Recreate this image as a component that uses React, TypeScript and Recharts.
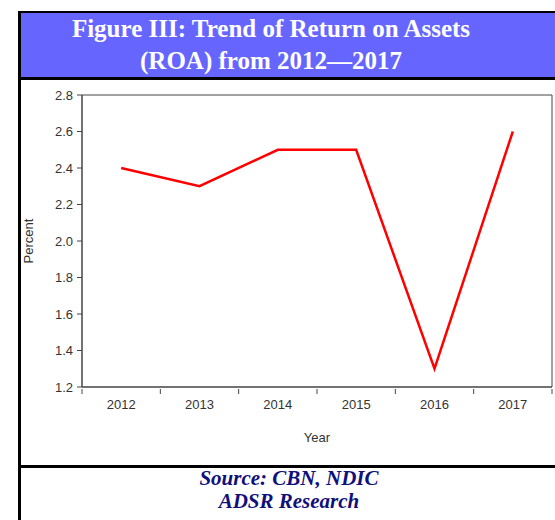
import { LineChart, Line, XAxis, YAxis, ReferenceArea, Label } from 'recharts';

const YEARS = ['2012', '2013', '2014', '2015', '2016', '2017'];
const ROA = [2.4, 2.3, 2.5, 2.5, 1.3, 2.6];
const Y_TICKS = [1.2, 1.4, 1.6, 1.8, 2.0, 2.2, 2.4, 2.6, 2.8];

const data = YEARS.map((year, i) => ({ year, roa: ROA[i] }));

const AXIS_COLOR = '#444';
const TEXT_COLOR = '#333';
const SANS = 'Arial, "Liberation Sans", sans-serif';
const SERIF = '"Times New Roman", "Liberation Serif", serif';

// x ticks sit between the categories, labels in the middle
const YearTick = (props: any) => {
    const { x, y, payload, index } = props;
    const half = payload && payload.offset ? payload.offset : 470 / 12;
    return (
        <g>
            {index === 0 && <line x1={x - half} y1={y - 6} x2={x - half} y2={y - 1} stroke={AXIS_COLOR} />}
            <line x1={x + half} y1={y - 6} x2={x + half} y2={y - 1} stroke={AXIS_COLOR} />
            <text x={x} y={y + 14} textAnchor="middle" fontSize={13} fontFamily={SANS} fill={TEXT_COLOR}>
                {payload.value}
            </text>
        </g>
    );
};

export default function App() {
    return (
        <div style={{ position: 'fixed', left: 0, top: 0, width: 555, height: 520, overflow: 'hidden', background: '#fff' }}>
            {/* frame */}
            <div style={{ position: 'absolute', left: 18, top: 11, width: 3, height: 509, background: '#000' }} />
            <div style={{ position: 'absolute', left: 18, top: 11, width: 537, height: 2, background: '#000' }} />
            <div style={{ position: 'absolute', left: 21, top: 13, width: 534, height: 64, background: '#6666FF' }} />
            <div style={{ position: 'absolute', left: 21, top: 77, width: 534, height: 3, background: '#000' }} />
            <div style={{ position: 'absolute', left: 21, top: 465, width: 534, height: 3, background: '#000' }} />

            <div
                style={{
                    position: 'absolute',
                    left: 21,
                    top: 13,
                    width: 500,
                    height: 64,
                    color: '#fff',
                    fontFamily: SERIF,
                    fontWeight: 'bold',
                    fontSize: 25,
                    lineHeight: '32px',
                    textAlign: 'center',
                }}
            >
                Figure III: Trend of Return on Assets
                <br />
                (ROA) from 2012—2017
            </div>

            <div
                style={{
                    position: 'absolute',
                    left: 21,
                    top: 467,
                    width: 536,
                    color: '#10107a',
                    fontFamily: SERIF,
                    fontWeight: 'bold',
                    fontStyle: 'italic',
                    fontSize: 21,
                    lineHeight: '23px',
                    textAlign: 'center',
                }}
            >
                Source: CBN, NDIC
                <br />
                ADSR Research
            </div>

            <div style={{ position: 'absolute', left: 8, top: 80 }}>
                <LineChart width={547} height={385} data={data} margin={{ top: 15, right: 3, bottom: 23, left: 14 }}>
                    <ReferenceArea y1={1.2} y2={2.8} fill="none" stroke={AXIS_COLOR} strokeOpacity={1} />
                    <XAxis
                        dataKey="year"
                        scale="band"
                        height={55}
                        interval={0}
                        stroke={AXIS_COLOR}
                        tickLine={false}
                        tick={<YearTick />}
                    >
                        <Label value="Year" position="insideBottom" offset={0} fontSize={13} fontFamily={SANS} fill={TEXT_COLOR} />
                    </XAxis>
                    <YAxis
                        domain={[1.2, 2.8]}
                        ticks={Y_TICKS}
                        interval={0}
                        width={60}
                        stroke={AXIS_COLOR}
                        tickSize={5}
                        tickMargin={4}
                        tickFormatter={(v: number) => v.toFixed(1)}
                        tick={{ fontSize: 13, fontFamily: SANS, fill: TEXT_COLOR }}
                    >
                        <Label
                            value="Percent"
                            angle={-90}
                            position="insideLeft"
                            offset={6}
                            fontSize={13}
                            fontFamily={SANS}
                            fill={TEXT_COLOR}
                            style={{ textAnchor: 'middle' }}
                        />
                    </YAxis>
                    <Line
                        type="linear"
                        dataKey="roa"
                        stroke="#ff0000"
                        strokeWidth={2.5}
                        dot={false}
                        activeDot={false}
                        isAnimationActive={false}
                    />
                </LineChart>
            </div>
        </div>
    );
}
